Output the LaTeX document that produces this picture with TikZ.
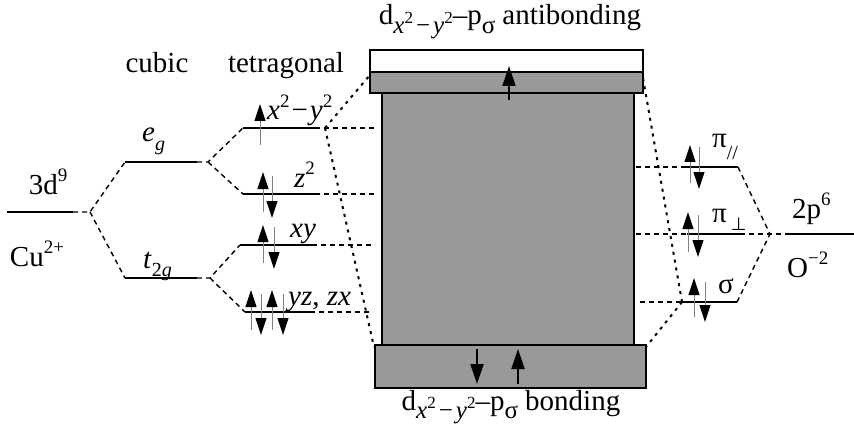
\documentclass[tikz,border=0pt]{standalone}
\usepackage{fontspec}
\setmainfont{Liberation Serif}
\newfontfamily\symfont{DejaVu Sans}
\usetikzlibrary{arrows.meta}
\definecolor{boxgray}{RGB}{153,153,153}
\newcommand\mysup[1]{\raisebox{0.42em}{\fontsize{19}{19}\selectfont #1}}
\newcommand\mysub[1]{\raisebox{-0.28em}{\fontsize{20}{20}\selectfont #1}}
\newcommand\bsub[1]{\raisebox{-0.3em}{\fontsize{25}{25}\selectfont #1}}
\newcommand\ssup[1]{\raisebox{0.4em}{\fontsize{17}{17}\selectfont #1}}
\begin{document}
\begin{tikzpicture}[x=1pt,y=-1pt,
  font=\fontsize{29}{32}\selectfont,
  lvl/.style={line width=2pt},
  dsh/.style={line width=1.4pt, dash pattern=on 5pt off 4pt},
  dotl/.style={line width=2pt, dash pattern=on 3pt off 5pt},
  spin/.style={draw=gray, line width=1pt, -{Triangle[length=17pt,width=11pt,color=black]}},
  bigspin/.style={draw=black, line width=2.2pt, -{Triangle[length=20pt,width=13pt]}},
  lbl/.style={inner sep=0pt, anchor=base west},
  clbl/.style={inner sep=0pt, anchor=base},
  band/.style={draw=black, line width=2.6pt, fill=boxgray}
]
\useasboundingbox (0,0) rectangle (854,433);

% ---------- coordinates ----------
\coordinate (cuL) at (7,212);   \coordinate (cuR) at (73,212);  \coordinate (cuJ) at (90,212);
\coordinate (egL) at (125,162); \coordinate (egR) at (197,162); \coordinate (egJ) at (208,162);
\coordinate (tL) at (125,278);  \coordinate (tR) at (197,278);  \coordinate (tJ) at (210,278);
\coordinate (aL) at (243,128);  \coordinate (aR) at (315,128);  \coordinate (aD) at (325,128); \coordinate (aE) at (377,128);
\coordinate (bL) at (243,194);  \coordinate (bR) at (315,194);  \coordinate (bE) at (374,194);
\coordinate (cL) at (240,245);  \coordinate (cR) at (312,245);  \coordinate (cE) at (375,245);
\coordinate (dL) at (245,312);  \coordinate (dR) at (310,312);  \coordinate (dE) at (373,312);
% boxes
\coordinate (antiTL) at (370,50);  \coordinate (antiMR) at (643,72);
\coordinate (antiML) at (370,72);  \coordinate (antiBR) at (643,93);
\coordinate (colTL) at (382,93);   \coordinate (colBR) at (634,345);
\coordinate (bondTL) at (375,345); \coordinate (bondBR) at (646,388);
\coordinate (antiLeft) at (370,75); \coordinate (bondLeft) at (374,347);
\coordinate (antiRight) at (643,78); \coordinate (bondRight) at (646,347);
% right side
\coordinate (pS) at (636,167); \coordinate (pL) at (683,167); \coordinate (pR) at (738,167);
\coordinate (qS) at (636,234); \coordinate (qL) at (687,234); \coordinate (qR) at (740,234);
\coordinate (sS) at (640,302); \coordinate (sL) at (682,302); \coordinate (sR) at (737,302);
\coordinate (oJ) at (770,234); \coordinate (oL) at (787,234); \coordinate (oR) at (854,234);

% ---------- left levels ----------
\draw[lvl] (cuL) -- (cuR);
\draw[dsh] (cuR) -- (cuJ) -- (egL);
\draw[dsh] (cuJ) -- (tL);
\draw[lvl] (egL) -- (egR);
\draw[lvl] (tL) -- (tR);
\draw[dsh] (egR) -- (egJ) -- (aL);
\draw[dsh] (egJ) -- (bL);
\draw[dsh] (tR) -- (tJ) -- (cL);
\draw[dsh] (tJ) -- (dL);
\draw[lvl] (aL) -- (aR);
\draw[lvl] (bL) -- (bR);
\draw[lvl] (cL) -- (cR);
\draw[lvl] (dL) -- (dR);
\draw[dsh] (aR) -- (aE);
\draw[dsh] (bR) -- (bE);
\draw[dsh] (cR) -- (cE);
\draw[dsh] (dR) -- (dE);
\draw[dotl] (aD) -- (antiLeft);
\draw[dotl] (aD) -- (bondLeft);

% ---------- right levels ----------
\draw[dsh] (pS) -- (pL);
\draw[dsh] (qS) -- (qL);
\draw[dsh] (sS) -- (sL);
\draw[lvl] (pL) -- (pR);
\draw[lvl] (qL) -- (qR);
\draw[lvl] (sL) -- (sR);
\draw[dsh] (pR) -- (oJ);
\draw[dsh] (sR) -- (oJ);
\draw[dsh] (qR) -- (oJ) -- (oL);
\draw[lvl] (oL) -- (oR);
\draw[dotl] (sL) -- (antiRight);
\draw[dotl] (sL) -- (bondRight);

% ---------- bands ----------
\draw[band] (colTL) rectangle (colBR);
\draw[band] (bondTL) rectangle (bondBR);
\draw[draw=black, line width=2.6pt, fill=white] (antiTL) rectangle (antiMR);
\draw[band] (antiML) rectangle (antiBR);

% ---------- spins ----------
\draw[bigspin] (509,100) -- (509,66);
\draw[bigspin] (477,349) -- (477,384);
\draw[bigspin] (518,384) -- (518,349);

\draw[spin] (260,145) -- (260,104);
\draw[spin] (263,212) -- (263,172);
\draw[spin] (272,176) -- (272,218);
\draw[spin] (263,263) -- (263,225);
\draw[spin] (274,227) -- (274,269);
\draw[spin] (251,330) -- (251,290);
\draw[spin] (261,294) -- (261,335);
\draw[spin] (272,330) -- (272,290);
\draw[spin] (283,294) -- (283,335);

\draw[spin] (690,183) -- (690,145);
\draw[spin] (699,147) -- (699,189);
\draw[spin] (688,252) -- (688,212);
\draw[spin] (698,215) -- (698,257);
\draw[spin] (694,317) -- (694,278);
\draw[spin] (705,282) -- (705,322);

% ---------- labels ----------
\node[clbl] (cubic) at (157,73) {cubic};
\node[clbl] (tetra) at (286,73) {tetragonal};
\node[clbl] (d9) at (48,194) {3d\mysup{9}};
\node[clbl] (cu) at (37,266) {Cu\mysup{2+}};
\node[lbl] (eg) at (142,142) {\textit{e}\mysub{\textit{g}}};
\node[lbl] (t2g) at (143,268) {\textit{t}\mysub{2\textit{g}}};
\node[lbl] (x2y2) at (267,120) {\textit{x}\mysup{2}\kern2pt−\kern2pt\textit{y}\mysup{2}};
\node[lbl] (z2) at (294,187) {\textit{z}\mysup{2}};
\node[lbl] (xy) at (290,237) {\textit{xy}};
\node[lbl] (yzzx) at (288,305) {\textit{yz}, \textit{zx}};
\node[clbl] (antilbl) at (510,25) {d\bsub{\textit{x}\ssup{2}\kern3pt−\kern3pt\textit{y}\ssup{2}}–p\bsub{σ} antibonding};
\node[clbl] (bondlbl) at (511,410) {d\bsub{\textit{x}\ssup{2}\kern3pt−\kern3pt\textit{y}\ssup{2}}–p\bsub{σ} bonding};
\node[lbl] (pipar) at (712,148) {π\raisebox{-0.4em}{\fontsize{20}{20}\selectfont //}};
\node[lbl] (piperp) at (712,222) {π\kern4pt\raisebox{-0.3em}{\symfont\fontsize{18}{18}\selectfont ⊥}};
\node[lbl] (sig) at (718,293) {σ};
\node[lbl] (p6) at (792,218) {2p\mysup{6}};
\node[lbl] (ox) at (787,277) {O\mysup{−2}};
\end{tikzpicture}
\end{document}
